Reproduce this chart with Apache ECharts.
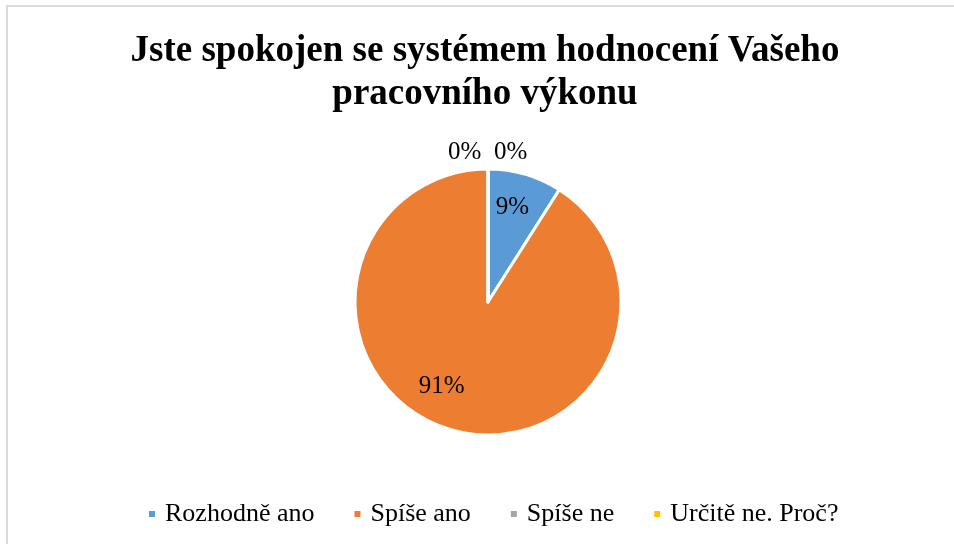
<!DOCTYPE html>
<html>
<head>
<meta charset="utf-8">
<script src="https://cdn.jsdelivr.net/npm/echarts@6/dist/echarts.min.js"></script>
<style>
  html, body { margin: 0; padding: 0; background: #fff; }
  .wrap { position: relative; width: 954px; height: 544px; overflow: hidden; }
  .frame { position: absolute; left: 6px; top: 5px; width: 1000px; height: 600px; border-left: 2px solid #d9d9d9; border-top: 2px solid #d9d9d9; }
  #chart { position: absolute; left: 0; top: 0; width: 954px; height: 544px; }
</style>
</head>
<body>
<div class="wrap">
  <div class="frame"></div>
  <div id="chart"></div>
</div>
<script>
const titleText = 'Jste spokojen se systémem hodnocení Vašeho\npracovního výkonu'
const categories = ['Rozhodně ano', 'Spíše ano', 'Spíše ne', 'Určitě ne. Proč?']
const values = [9, 91, 0, 0]
const colors = ['#5B9BD5', '#ED7D31', '#A5A5A5', '#FFC000']

// posun popisků oproti výchozí pozici (Excel bestFit)
const labelShift = [
  { dx: 5, dy: -28 },
  { dx: -27, dy: 18 },
  { dx: -45, dy: -13 },
  { dx: 1, dy: -13 }
]

const chartsDom = echarts.init(document.getElementById('chart'))

const option = {
  animation: false,
  color: colors,
  title: {
    text: titleText,
    left: 485,
    top: 30,
    padding: 0,
    textAlign: 'center',
    textStyle: {
      fontFamily: 'Liberation Serif',
      fontWeight: 'bold',
      fontSize: 37,
      lineHeight: 43,
      color: '#000'
    }
  },
  legend: {
    data: categories,
    left: 142,
    top: 496,
    icon: 'rect',
    itemWidth: 8,
    itemHeight: 8,
    itemGap: 38,
    selectedMode: false,
    textStyle: {
      fontFamily: 'Liberation Serif',
      fontSize: 26,
      color: '#000',
      padding: [0, 0, 0, 4]
    }
  },
  series: [
    {
      type: 'pie',
      center: [488, 302],
      radius: 133,
      startAngle: 90,
      clockwise: true,
      avoidLabelOverlap: false,
      stillShowZeroSum: true,
      itemStyle: {
        borderColor: '#fff',
        borderWidth: 3
      },
      label: {
        position: 'inside',
        formatter: '{d}%',
        fontFamily: 'Liberation Serif',
        fontSize: 25,
        color: '#000'
      },
      labelLine: { show: false },
      labelLayout: params => labelShift[params.dataIndex],
      data: categories.map((name, i) => {
        const item = { name, value: values[i] }
        if (values[i] === 0) {
          item.label = { position: 'outside', formatter: '0%' }
          item.labelLine = { show: false, length: 4, length2: 0 }
        } else {
          item.label = { formatter: p => Math.round(p.percent) + '%' }
        }
        return item
      })
    }
  ]
}

chartsDom.setOption(option)
</script>
</body>
</html>
